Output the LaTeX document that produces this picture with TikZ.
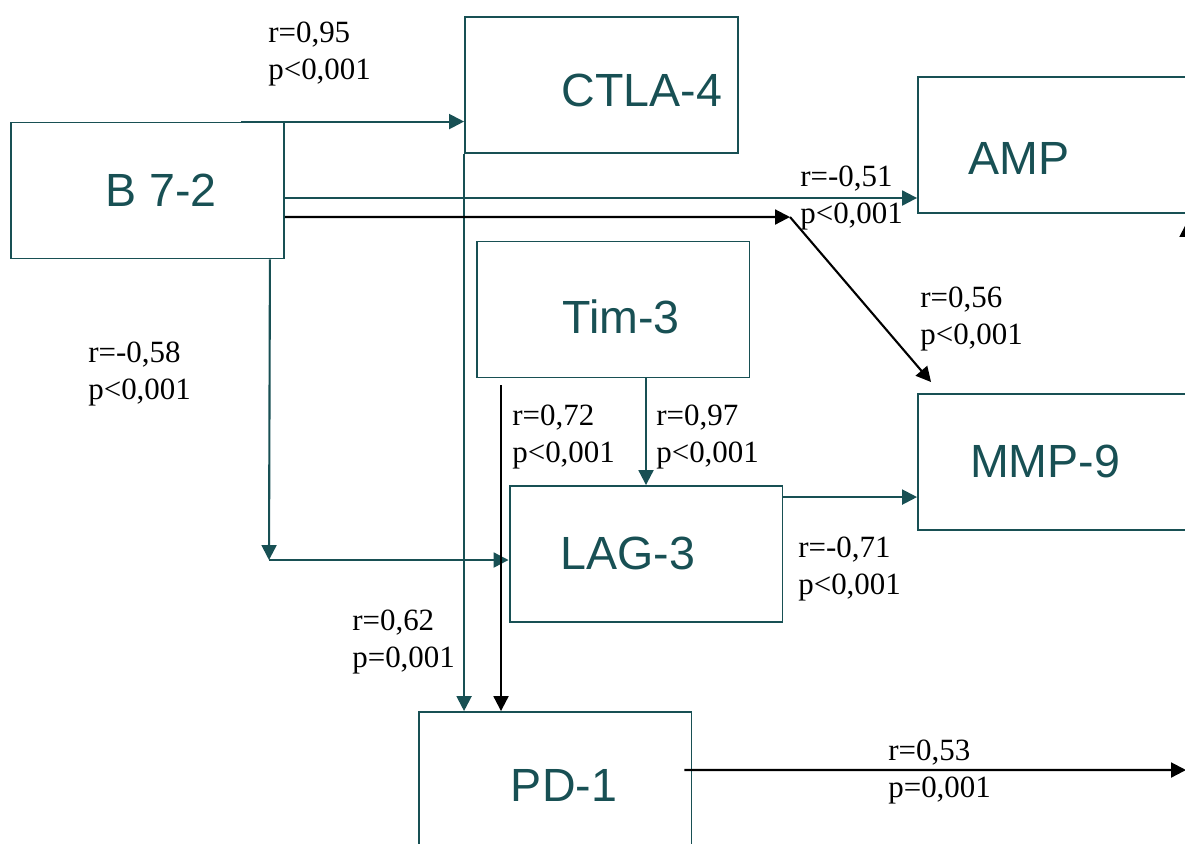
\documentclass[tikz,border=0pt]{standalone}
\usepackage{fontspec}
\setmainfont{Liberation Serif}
\newfontfamily\boxfont{Liberation Sans}
\usetikzlibrary{arrows.meta,calc}
\definecolor{factorteal}{RGB}{24,80,84}

\begin{document}
\begin{tikzpicture}[
    x=0.02cm, y=-0.02cm,
    factor/.style={draw=factorteal, line width=1.1pt, minimum width=5.46cm, minimum height=2.72cm, inner sep=0pt},
    facname/.style={text=factorteal, font=\boxfont\fontsize{26.5}{30}\selectfont, inner sep=0pt},
    stat/.style={anchor=north west, align=left, inner sep=0pt, font=\fontsize{17.6}{21}\selectfont},
    link/.style={->, draw=factorteal, line width=1.2pt},
    blink/.style={->, draw=black, line width=1.2pt},
    >={Triangle[length=8.5pt,width=8.5pt]}
]
\useasboundingbox (0,0) rectangle (1185,843);
\clip (0,0) rectangle (1185,843);

% boxes
\node[factor] (b72) at (147.5,190.5) {};
\node[factor] (ctla) at (601.5,85) {};
\node[factor] (amp) at (1054.5,145) {};
\node[factor] (tim) at (613,309.5) {};
\node[factor] (mmp) at (1054.5,462) {};
\node[factor] (lag) at (646,554) {};
\node[factor] (pd) at (555,780) {};

\node[facname] (b72txt) at (161,190) {B 7-2};
\node[facname] (ctlatxt) at (642,90) {CTLA-4};
\node[facname] (amptxt) at (1019,158) {AMP};
\node[facname] (timtxt) at (621,317) {Tim-3};
\node[facname] (mmptxt) at (1045,461) {MMP-9};
\node[facname] (lagtxt) at (628,553) {LAG-3};
\node[facname] (pdtxt) at (564,785) {PD-1};

% helper points
\coordinate (bend) at (790,217);
\coordinate (corner) at (269,560);
\coordinate (timout) at (501,385);
\coordinate (pdout) at (1186,770);
\coordinate (edgeup) at (1187,222);

% teal links
\draw[link] ([xshift=-0.88cm]b72.north east) -- (b72.north east -| ctla.west);
\draw[link] (ctla.south west) -- (ctla.south west |- pd.north);
\draw[link] ([yshift=-0.15cm]b72.east) -- ([yshift=-0.15cm]b72.east -| amp.west);
\draw[link] ([xshift=-0.3cm]b72.south east) -- (corner);
\draw[link] (corner) -- (corner -| lag.west);
\draw[link] (tim.south -| lag.north) -- (lag.north);
\draw[link] ([yshift=-0.24cm]lag.north east) -- ([yshift=-0.24cm]lag.north east -| mmp.west);

% black links
\draw[blink] ([yshift=-0.53cm]b72.east) -- (bend);
\draw[blink] (bend) -- ([xshift=0.28cm,yshift=0.22cm]mmp.north west);
\draw[blink] (timout) -- (timout |- pd.north);
\draw[blink] ([xshift=-0.16cm,yshift=0.2cm]pd.east) -- (pdout);
\draw[blink] (edgeup |- lag.north) -- (edgeup);

% statistics
\node[stat] (s95) at (268,22) {r=0,95\\p<0,001};
\node[stat] (s51) at (800,166) {r=-0,51\\p<0,001};
\node[stat] (s56) at (920,287) {r=0,56\\p<0,001};
\node[stat] (s58) at (88,342) {r=-0,58\\p<0,001};
\node[stat] (s72) at (512,405) {r=0,72\\p<0,001};
\node[stat] (s97) at (656,405) {r=0,97\\p<0,001};
\node[stat] (s71) at (798,537) {r=-0,71\\p<0,001};
\node[stat] (s62) at (352,610) {r=0,62\\p=0,001};
\node[stat] (s53) at (888,740) {r=0,53\\p=0,001};
\end{tikzpicture}
\end{document}
